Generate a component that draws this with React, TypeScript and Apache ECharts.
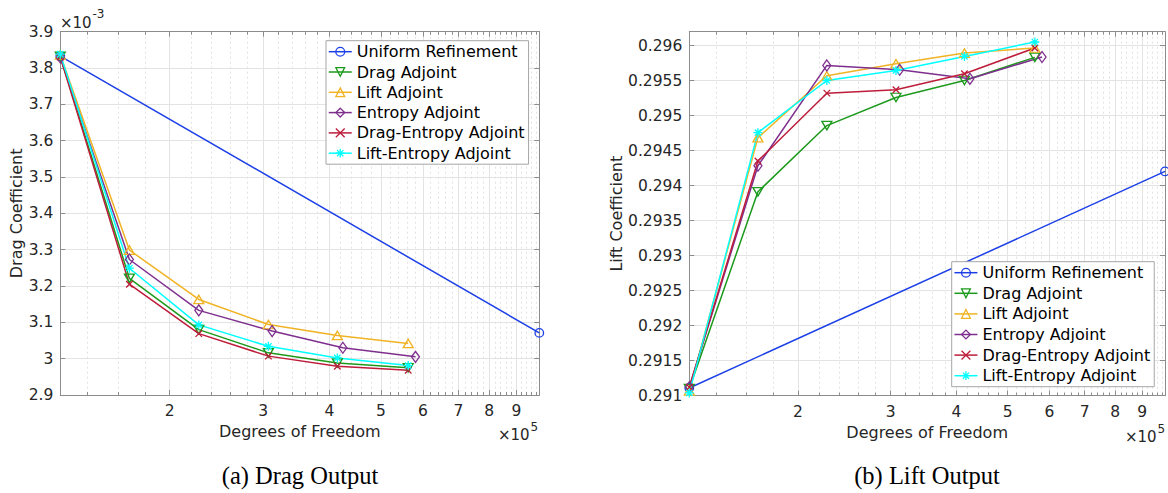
import React, { useEffect, useRef } from 'react';
import * as echarts from 'echarts';

const seriesNames = [
  'Uniform Refinement',
  'Drag Adjoint',
  'Lift Adjoint',
  'Entropy Adjoint',
  'Drag-Entropy Adjoint',
  'Lift-Entropy Adjoint',
];
const lineColors = ['#1c3fe6', '#1c9a1c', '#f0b323', '#7e2f8e', '#bd1c3a', '#00ffff'];

// Degrees of freedom of each mesh
const dofUniform = [1.245e5, 9.94e5];
const dofAdaptive = [1.245e5, 1.68e5, 2.27e5, 3.07e5, 4.14e5, 5.63e5];
const dofEntropy = [1.245e5, 1.68e5, 2.27e5, 3.12e5, 4.24e5, 5.81e5];

// Drag coefficient (x 10^-3)
const dragUniform = [3.833, 3.071];
const dragDragAdj = [3.832, 3.221, 3.08, 3.016, 2.988, 2.975];
const dragLiftAdj = [3.836, 3.299, 3.163, 3.094, 3.064, 3.042];
const dragEntropyAdj = [3.829, 3.273, 3.133, 3.076, 3.03, 3.005];
const dragDragEntAdj = [3.83, 3.205, 3.069, 3.007, 2.979, 2.968];
const dragLiftEntAdj = [3.838, 3.249, 3.093, 3.034, 3.002, 2.981];

// Lift coefficient
const liftUniform = [0.29111, 0.294204];
const liftDragAdj = [0.2911, 0.293913, 0.294859, 0.29526, 0.295503, 0.295833];
const liftLiftAdj = [0.29107, 0.294687, 0.29557, 0.295742, 0.295895, 0.295967];
const liftEntropyAdj = [0.29112, 0.294285, 0.295718, 0.295656, 0.295527, 0.295838];
const liftDragEntAdj = [0.29112, 0.294352, 0.295322, 0.29537, 0.295599, 0.295967];
const liftLiftEntAdj = [0.29104, 0.294758, 0.295503, 0.295646, 0.295847, 0.296053];

// Axis ticks
const xMajorTicks = [2e5, 3e5, 4e5, 5e5, 6e5, 7e5, 8e5, 9e5];
const xMinorTicks = [
  1.4e5, 1.6e5, 1.8e5, 2.2e5, 2.4e5, 2.6e5, 2.8e5, 3.2e5, 3.4e5, 3.6e5, 3.8e5,
  4.2e5, 4.4e5, 4.6e5, 4.8e5, 5.2e5, 5.4e5, 5.6e5, 5.8e5, 6.2e5, 6.4e5, 6.6e5,
  6.8e5, 7.2e5, 7.4e5, 7.6e5, 7.8e5, 8.2e5, 8.4e5, 8.6e5, 8.8e5, 9.2e5, 9.4e5,
  9.6e5, 9.8e5,
];
const dragAxis = { min: 2.9, max: 3.9, interval: 0.1 };
const liftAxis = { min: 0.291, max: 0.2962, interval: 0.0005 };

const symbols = [
  'path://M10,5A5,5,0,1,1,0,5A5,5,0,1,1,10,5Z',
  'path://M0,0L10,0L5,8.66Z',
  'path://M5,0L10,8.66L0,8.66Z',
  'path://M5,0L10,7L5,14L0,7Z',
  'path://M0,0L10,10M10,0L0,10',
  'path://M5,0L5,10M0,5L10,5M1.5,1.5L8.5,8.5M8.5,1.5L1.5,8.5',
];
const symbolSizes: any[] = [8.5, [10, 8.5], [10, 8.5], [8, 11], 6.5, 9];

const FONT = 'DejaVu Sans';
const TEXT = '#262626';
const FRAME = '#8c8c8c';
const GRID_MAJOR = '#e3e3e3';
const GRID_MINOR = '#e2e2e2';

const xMin = dofAdaptive[0];
const xMax = dofUniform[1];

function makeSeries(ys: number[][], xAxisIndex: number, yAxisIndex: number) {
  const xs = [dofUniform, dofAdaptive, dofAdaptive, dofEntropy, dofAdaptive, dofAdaptive];
  return seriesNames.map((name, i) => ({
    type: 'line',
    name,
    xAxisIndex,
    yAxisIndex,
    data: xs[i].map((x, j) => [x, ys[i][j]]),
    symbol: symbols[i],
    symbolSize: symbolSizes[i],
    showAllSymbol: true,
    clip: false,
    lineStyle: { color: lineColors[i], width: 1.5 },
    itemStyle: { color: 'rgba(0,0,0,0)', borderColor: lineColors[i], borderWidth: 1.3 },
    emphasis: { disabled: true },
  }));
}

function xAxesFor(gridIndex: number) {
  const base = { type: 'log', logBase: 10, gridIndex, min: xMin, max: xMax };
  const lineStyle = { color: FRAME, width: 1 };
  return [
    {
      ...base,
      position: 'bottom',
      axisLine: { show: true, onZero: false, lineStyle },
      axisTick: { show: true, inside: true, length: 5, customValues: xMajorTicks, lineStyle },
      axisLabel: {
        show: true,
        customValues: xMajorTicks,
        formatter: (v: number) => String(Math.round(v / 1e5)),
        margin: 8,
        color: TEXT,
        fontSize: 15.5,
        fontFamily: FONT,
      },
      splitLine: { show: true, lineStyle: { color: GRID_MAJOR, width: 1 } },
      minorTick: { show: false },
      minorSplitLine: { show: false },
      name: 'Degrees of Freedom',
      nameLocation: 'middle',
      nameGap: 27.5,
      nameTextStyle: { color: TEXT, fontSize: 16, fontFamily: FONT },
    },
    {
      ...base,
      position: 'bottom',
      axisLine: { show: false, onZero: false },
      axisTick: { show: true, inside: true, length: 3, customValues: xMinorTicks, lineStyle },
      axisLabel: { show: false },
      splitLine: { show: true, lineStyle: { color: GRID_MINOR, width: 1, type: [2, 3] } },
    },
    {
      ...base,
      position: 'top',
      axisLine: { show: true, onZero: false, lineStyle },
      axisTick: { show: true, inside: true, length: 5, customValues: xMajorTicks, lineStyle },
      axisLabel: { show: false },
      splitLine: { show: false },
    },
    {
      ...base,
      position: 'top',
      axisLine: { show: false, onZero: false },
      axisTick: { show: true, inside: true, length: 3, customValues: xMinorTicks, lineStyle },
      axisLabel: { show: false },
      splitLine: { show: false },
    },
  ];
}

function yAxesFor(
  gridIndex: number,
  range: { min: number; max: number; interval: number },
  digits: number,
  name: string,
  nameGap: number,
  showMaxLabel: boolean
) {
  const lineStyle = { color: FRAME, width: 1 };
  return [
    {
      type: 'value',
      gridIndex,
      position: 'left',
      ...range,
      axisLine: { show: true, onZero: false, lineStyle },
      axisTick: { show: true, inside: true, length: 5, lineStyle },
      axisLabel: {
        formatter: (v: number) => String(Number(v.toFixed(digits))),
        margin: 7,
        color: TEXT,
        fontSize: 15.5,
        fontFamily: FONT,
        showMaxLabel,
      },
      splitLine: { show: true, lineStyle: { color: GRID_MAJOR, width: 1 } },
      name,
      nameLocation: 'middle',
      nameGap,
      nameTextStyle: { color: TEXT, fontSize: 16, fontFamily: FONT },
    },
    {
      type: 'value',
      gridIndex,
      position: 'right',
      ...range,
      axisLine: { show: true, onZero: false, lineStyle },
      axisTick: { show: true, inside: true, length: 5, lineStyle },
      axisLabel: { show: false },
      splitLine: { show: false },
    },
  ];
}

function legendFor(left: number, top: number, itemGap: number) {
  return {
    left,
    top,
    orient: 'vertical',
    align: 'left',
    itemWidth: 23,
    itemHeight: 11,
    itemGap,
    padding: [3, 4, 3, 2],
    backgroundColor: '#ffffff',
    borderColor: '#a6a6a6',
    borderWidth: 1,
    borderRadius: 0,
    selectedMode: false,
    z: 20,
    textStyle: { fontSize: 16, fontFamily: FONT, color: '#000000', lineHeight: 16 },
    data: seriesNames.map((name, i) => ({
      name,
      itemStyle: { color: 'rgba(0,0,0,0)', borderColor: lineColors[i], borderWidth: 1.3 },
      lineStyle: { color: lineColors[i], width: 1.5 },
    })),
  };
}

function textEl(text: string, x: number, y: number, fontSize: number, align = 'left', family = FONT, fill = TEXT) {
  return {
    type: 'text',
    x,
    y,
    silent: true,
    style: { text, fontSize, fontFamily: family, fill, align, verticalAlign: 'middle' },
  };
}

export default function App() {
  const ref = useRef<HTMLDivElement>(null);
  useEffect(() => {
    const chart = echarts.init(ref.current as HTMLDivElement, undefined, { renderer: 'svg' });
    const option: any = {
      animation: false,
      backgroundColor: '#ffffff',
      grid: [
        { left: 60.3, top: 31.7, width: 479, height: 363.3, containLabel: false, outerBoundsMode: 'none' },
        { left: 689.3, top: 31.7, width: 475.7, height: 364, containLabel: false, outerBoundsMode: 'none' },
      ],
      xAxis: [...xAxesFor(0), ...xAxesFor(1)],
      yAxis: [
        ...yAxesFor(0, dragAxis, 1, 'Drag Coefficient', 36, true),
        ...yAxesFor(1, liftAxis, 4, 'Lift Coefficient', 65, false),
      ],
      legend: [legendFor(326, 40.7, 4.3), legendFor(951.7, 261.7, 4.6)],
      series: [
        ...makeSeries(
          [dragUniform, dragDragAdj, dragLiftAdj, dragEntropyAdj, dragDragEntAdj, dragLiftEntAdj],
          0,
          0
        ),
        ...makeSeries(
          [liftUniform, liftDragAdj, liftLiftAdj, liftEntropyAdj, liftDragEntAdj, liftLiftEntAdj],
          4,
          2
        ),
      ],
      graphic: [
        textEl('×10', 60, 23, 15),
        textEl('-3', 92.5, 14, 12),
        textEl('×10', 498, 435, 15),
        textEl('5', 530.5, 427, 12),
        textEl('×10', 1125, 436.5, 15),
        textEl('5', 1157.5, 428.5, 12),
        textEl('(a) Drag Output', 300, 475, 24.5, 'center', 'Liberation Serif', '#000000'),
        textEl('(b) Lift Output', 927, 475, 24.5, 'center', 'Liberation Serif', '#000000'),
      ],
    };
    chart.setOption(option);
    return () => chart.dispose();
  }, []);
  return (
    <div
      ref={ref}
      style={{ position: 'absolute', left: 0, top: 0, width: 1168, height: 493, background: '#ffffff' }}
    />
  );
}
